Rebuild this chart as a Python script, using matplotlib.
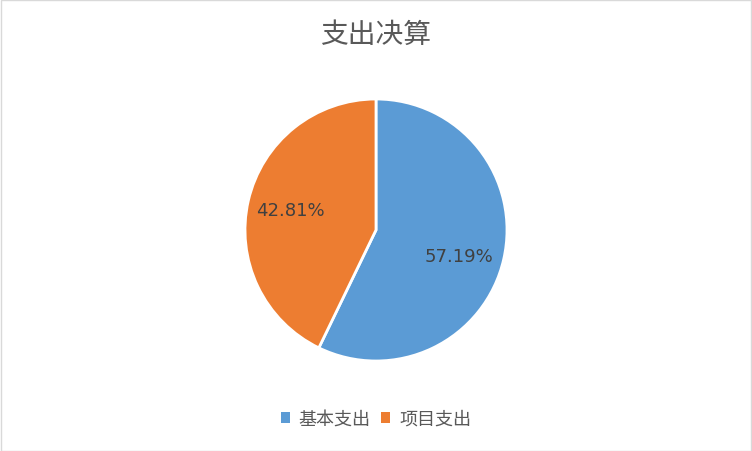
import matplotlib.pyplot as plt
from matplotlib.patches import Rectangle, Patch

plt.rcParams['font.family'] = ['Noto Sans CJK SC', 'DejaVu Sans']

title = '支出决算'
categories = ['基本支出', '项目支出']
values = [57.19, 42.81]
colors = ['#5B9BD5', '#ED7D31']

fig = plt.figure(figsize=(7.52, 4.52), dpi=100)
fig.patches.append(Rectangle((0.5 / 752, 0.5 / 452), 1 - 1.5 / 752, 1 - 1.5 / 452,
                             transform=fig.transFigure, fill=False,
                             edgecolor='#D9D9D9', linewidth=1))

ax = fig.add_axes([245 / 752, 90 / 452, 262 / 752, 262 / 452])
wedges, texts = ax.pie(values, colors=colors, startangle=90, counterclock=False,
                       wedgeprops=dict(edgecolor='white', linewidth=2),
                       labels=['%.2f%%' % v for v in values],
                       labeldistance=0.67,
                       textprops=dict(fontsize=13, color='#404040',
                                      family='DejaVu Sans'))
for t in texts:
    t.set_ha('center')
    t.set_va('center')
# Excel puts the blue label slightly lower than the wedge midline
x, y = texts[0].get_position()
texts[0].set_position((x - 0.02, y - 0.05))
ax.set_xlim(-1, 1)
ax.set_ylim(-1, 1)
ax.set_aspect('equal')

fig.text(0.5, 1 - 35 / 452, title, ha='center', va='center',
         fontsize=20, color='#595959', fontweight='light')

handles = [Patch(facecolor=w.get_facecolor(), edgecolor='none') for w in wedges]
leg = fig.legend(handles, categories, loc='center', bbox_to_anchor=(0.5, 1 - 420 / 452),
                 ncol=2, frameon=False, fontsize=13, handlelength=0.5,
                 handleheight=0.5, handletextpad=0.5, columnspacing=0.6)
for t in leg.get_texts():
    t.set_color('#595959')

fig.savefig('out.png', dpi=100)
